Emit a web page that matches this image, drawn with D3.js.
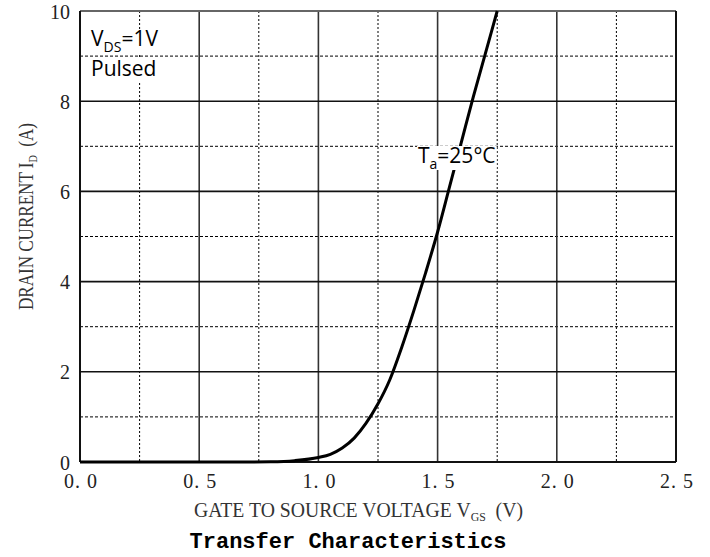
<!DOCTYPE html>
<html><head><meta charset="utf-8">
<script src="https://cdn.jsdelivr.net/npm/d3@7"></script>
<style>body{margin:0;background:#fff}svg{display:block}</style>
</head><body>
<svg id="c" width="710" height="557"></svg>
<script>
const vgs = [0, 0.7, 0.8, 0.9, 1.0, 1.05, 1.1, 1.15, 1.2, 1.25, 1.3, 1.35, 1.4, 1.45, 1.5, 1.55, 1.6, 1.65, 1.7, 1.75];
const idA = [0, 0.0, 0.005, 0.03, 0.10, 0.17, 0.31, 0.53, 0.86, 1.29, 1.83, 2.55, 3.35, 4.2, 5.1, 6.1, 7.1, 8.1, 9.05, 10.0];
const xTicks = [0, 0.5, 1.0, 1.5, 2.0, 2.5];
const xTickLabels = ["0. 0", "0. 5", "1. 0", "1. 5", "2. 0", "2. 5"];
const xMinor = [0.25, 0.75, 1.25, 1.75, 2.25];
const yTicks = [0, 2, 4, 6, 8, 10];
const yMinor = [1, 3, 5, 7, 9];

const svg = d3.select("#c");
const L = 80, R = 676, T = 11, B = 462;
const x = d3.scaleLinear().domain([0, 2.5]).range([L, R]);
const y = d3.scaleLinear().domain([0, 10]).range([B, T]);

// minor dotted grid
svg.append("g").selectAll("line").data(xMinor).join("line")
  .attr("x1", d => x(d)).attr("x2", d => x(d)).attr("y1", T).attr("y2", B)
  .attr("stroke", "#000").attr("stroke-width", 1).attr("stroke-dasharray", "2,2");
svg.append("g").selectAll("line").data(yMinor).join("line")
  .attr("y1", d => y(d)).attr("y2", d => y(d)).attr("x1", L).attr("x2", R)
  .attr("stroke", "#000").attr("stroke-width", 1).attr("stroke-dasharray", "3,2");
// major solid grid
svg.append("g").selectAll("line").data(xTicks.slice(1, -1)).join("line")
  .attr("x1", d => x(d)).attr("x2", d => x(d)).attr("y1", T).attr("y2", B)
  .attr("stroke", "#333").attr("stroke-width", 1.6);
svg.append("g").selectAll("line").data(yTicks.slice(1, -1)).join("line")
  .attr("y1", d => y(d)).attr("y2", d => y(d)).attr("x1", L).attr("x2", R)
  .attr("stroke", "#111").attr("stroke-width", 1.6);

// frame
svg.append("line").attr("x1", L).attr("x2", R).attr("y1", T).attr("y2", T).attr("stroke", "#666").attr("stroke-width", 2);
svg.append("line").attr("x1", R).attr("x2", R).attr("y1", T).attr("y2", B).attr("stroke", "#111").attr("stroke-width", 2);
svg.append("line").attr("x1", L).attr("x2", L).attr("y1", T).attr("y2", B).attr("stroke", "#111").attr("stroke-width", 2);
svg.append("line").attr("x1", L).attr("x2", R).attr("y1", B).attr("y2", B).attr("stroke", "#111").attr("stroke-width", 2);

// curve
const pts = vgs.map((v, i) => [v, idA[i]]);
svg.append("path").datum(pts)
  .attr("d", d3.line().x(d => x(d[0])).y(d => y(d[1])).curve(d3.curveMonotoneX))
  .attr("fill", "none").attr("stroke", "#000").attr("stroke-width", 3);

// axes (ticks hidden; labels only)
const serif = "'Liberation Serif', 'DejaVu Serif', serif";
const xAxis = svg.append("g").attr("transform", `translate(0,${B})`)
  .call(d3.axisBottom(x).tickValues(xTicks).tickSize(0).tickPadding(0).tickFormat((d, i) => xTickLabels[i]));
xAxis.select(".domain").remove();
xAxis.selectAll("text").attr("y", 26).attr("dy", null).attr("font-family", serif).attr("font-size", 20).attr("fill", "#222")
  .attr("textLength", 33).attr("lengthAdjust", "spacing");
const yAxis = svg.append("g").attr("transform", `translate(${L},0)`)
  .call(d3.axisLeft(y).tickValues(yTicks).tickSize(0).tickPadding(10).tickFormat(d => String(d)));
yAxis.select(".domain").remove();
yAxis.selectAll("text").attr("dy", "0.35em").attr("font-family", serif).attr("font-size", 20).attr("fill", "#222");

// axis titles
const xt = svg.append("text").attr("x", 194).attr("y", 517).attr("font-family", serif).attr("font-size", 20).attr("fill", "#333");
xt.append("tspan").text("GATE TO SOURCE VOLTAGE V");
xt.append("tspan").attr("font-size", 12).attr("dy", 4).text("GS");
xt.append("tspan").attr("dy", -4).text("\u00a0\u00a0(V)");
xt.attr("textLength", 329).attr("lengthAdjust", "spacingAndGlyphs");

const yt = svg.append("text").attr("transform", "translate(33,310) rotate(-90)").attr("font-family", serif).attr("font-size", 20).attr("fill", "#333");
yt.append("tspan").text("DRAIN CURRENT I");
yt.append("tspan").attr("font-size", 12).attr("dy", 4).text("D");
yt.append("tspan").attr("dy", -4).text("\u00a0\u00a0(A)");
yt.attr("textLength", 187).attr("lengthAdjust", "spacingAndGlyphs");

// title
svg.append("text").attr("x", 348).attr("y", 548).attr("text-anchor", "middle")
  .attr("font-family", "'Liberation Mono', 'DejaVu Sans Mono', monospace").attr("font-weight", "bold").attr("font-size", 22).attr("fill", "#000")
  .text("Transfer Characteristics");

// annotations with white backgrounds
const sans = "'Open Sans', 'Noto Sans', sans-serif";
function label(xp, yp, parts, padX, bottom) {
  const g = svg.append("g");
  const rect = g.append("rect").attr("fill", "#fff");
  const t = g.append("text").attr("x", xp).attr("y", yp).attr("font-family", sans).attr("font-size", 21).attr("fill", "#000");
  parts.forEach(p => {
    const s = t.append("tspan").text(p.t);
    if (p.sub) s.attr("font-size", 14).attr("dy", 6); else if (p.back) s.attr("dy", -6);
  });
  const bb = t.node().getBBox();
  rect.attr("x", bb.x - padX).attr("y", yp - 17).attr("width", bb.width + 2 * padX).attr("height", 17 + bottom);
}
label(91, 46, [{t: "V"}, {t: "DS", sub: true}, {t: "=1V", back: true}], 0, 7);
label(91, 76, [{t: "Pulsed"}], 0, 6);
label(418, 163, [{t: "T"}, {t: "a", sub: true}, {t: "=25°C", back: true}], 1, 7);
</script>
</body></html>
